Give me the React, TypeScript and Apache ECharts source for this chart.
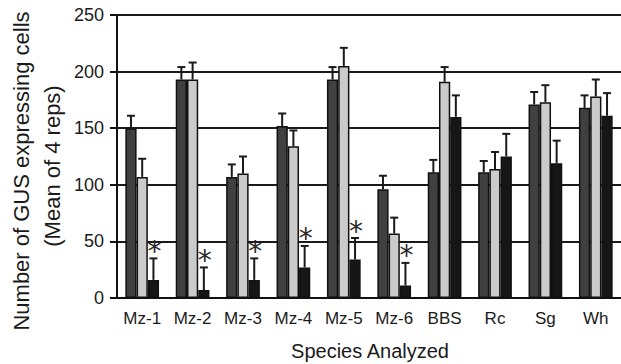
import React, { useEffect, useRef } from "react";
import * as echarts from "echarts";

const categories = ["Mz-1", "Mz-2", "Mz-3", "Mz-4", "Mz-5", "Mz-6", "BBS", "Rc", "Sg", "Wh"];
const darkMeans = [150, 193, 107, 152, 193, 96, 111, 111, 171, 168];
const darkErr = [11, 11, 11, 11, 11, 12, 11, 10, 11, 11];
const lightMeans = [107, 193, 110, 134, 205, 57, 191, 114, 173, 178];
const lightErr = [16, 15, 15, 14, 16, 14, 13, 15, 15, 15];
const blackMeans = [16, 7, 16, 27, 34, 11, 160, 125, 119, 161];
const blackErr = [19, 20, 19, 19, 19, 20, 19, 20, 20, 20];
const significant = [true, true, true, true, true, true, false, false, false, false];
const yTicks = { min: 0, max: 250, interval: 50 };

const yTitle = "Number of GUS expressing cells";
const ySubTitle = "(Mean of 4 reps)";
const xTitle = "Species Analyzed";
const starMark = "*";

const FONT = "'Liberation Sans', Arial, Helvetica, sans-serif";
const TEXT = "#1a1a1a";
const BAR_FRAC = 0.223;

export default function App() {
  const ref = useRef<HTMLDivElement>(null);

  useEffect(() => {
    if (!ref.current) return;
    const chart = echarts.init(ref.current, null, { renderer: "svg" });

    const errData: any[] = [];
    const groups = [
      { m: darkMeans, e: darkErr },
      { m: lightMeans, e: lightErr },
      { m: blackMeans, e: blackErr },
    ];
    groups.forEach((g, s) => {
      categories.forEach((_, i) => {
        const star = s === 2 && significant[i] ? 1 : 0;
        errData.push([i, s, g.m[i], g.e[i], star]);
      });
    });

    const barStyle = (color: string) => ({
      color,
      borderColor: "#111",
      borderWidth: 1.5,
    });

    chart.setOption({
      animation: false,
      backgroundColor: "#ffffff",
      textStyle: { fontFamily: FONT },
      grid: { left: 117, right: -3, top: 15, bottom: 66, containLabel: false },
      xAxis: {
        type: "category",
        data: categories,
        axisLine: { lineStyle: { color: "#111", width: 2 } },
        axisTick: { length: 5, lineStyle: { color: "#111", width: 2 } },
        axisLabel: { fontSize: 17, color: TEXT, margin: 12, fontFamily: FONT },
      },
      yAxis: {
        type: "value",
        min: yTicks.min,
        max: yTicks.max,
        interval: yTicks.interval,
        axisLine: { show: true, lineStyle: { color: "#111", width: 2 } },
        axisTick: { show: true, length: 7, lineStyle: { color: "#111", width: 2 } },
        axisLabel: { fontSize: 18, color: TEXT, margin: 13, fontFamily: FONT },
        splitLine: { lineStyle: { color: "#1a1a1a", width: 2 } },
      },
      series: [
        { type: "bar", data: darkMeans, barWidth: "22.3%", barGap: "0%", itemStyle: barStyle("#404040") },
        { type: "bar", data: lightMeans, barWidth: "22.3%", barGap: "0%", itemStyle: barStyle("#cbcbcb") },
        { type: "bar", data: blackMeans, barWidth: "22.3%", barGap: "0%", itemStyle: barStyle("#161616") },
        {
          type: "custom",
          data: errData,
          z: 10,
          clip: false,
          itemStyle: { color: "#1a1a1a" },
          encode: { x: 0, y: 2 },
          renderItem: (params: any, api: any) => {
            const cat = api.value(0);
            const s = api.value(1);
            const v = api.value(2);
            const e = api.value(3);
            const star = api.value(4);
            const band = api.size([1, 0])[0];
            const bw = band * BAR_FRAC;
            const cx = api.coord([cat, 0])[0] + (s - 1) * bw;
            const top = api.coord([cat, v])[1];
            const et = api.coord([cat, v + e])[1];
            const ls = { stroke: "#1a1a1a", lineWidth: 2, fill: null };
            const children: any[] = [
              { type: "line", shape: { x1: cx, y1: top, x2: cx, y2: et }, style: ls },
              { type: "line", shape: { x1: cx - 4, y1: et, x2: cx + 4, y2: et }, style: ls },
            ];
            if (star) {
              children.push({
                type: "text",
                x: cx + 1,
                y: et + 7,
                style: {
                  text: starMark,
                  fontSize: 28,
                  fontFamily: "'DejaVu Sans', sans-serif",
                  fill: "#2a2a2a",
                  stroke: null,
                  align: "center",
                  verticalAlign: "bottom",
                },
              });
            }
            return { type: "group", children };
          },
        },
      ],
      graphic: [
        {
          type: "text",
          x: 21,
          y: 171,
          rotation: Math.PI / 2,
          style: { text: yTitle, fontSize: 22, fontFamily: FONT, fill: TEXT, align: "center", verticalAlign: "middle" },
        },
        {
          type: "text",
          x: 52,
          y: 166,
          rotation: Math.PI / 2,
          style: { text: ySubTitle, fontSize: 22, fontFamily: FONT, fill: TEXT, align: "center", verticalAlign: "middle" },
        },
        {
          type: "text",
          x: 370,
          y: 351,
          style: { text: xTitle, fontSize: 20, fontFamily: FONT, fill: TEXT, align: "center", verticalAlign: "middle" },
        },
      ],
    });

    return () => chart.dispose();
  }, []);

  return <div ref={ref} style={{ position: "fixed", left: 0, top: 0, width: 621, height: 364 }} />;
}
